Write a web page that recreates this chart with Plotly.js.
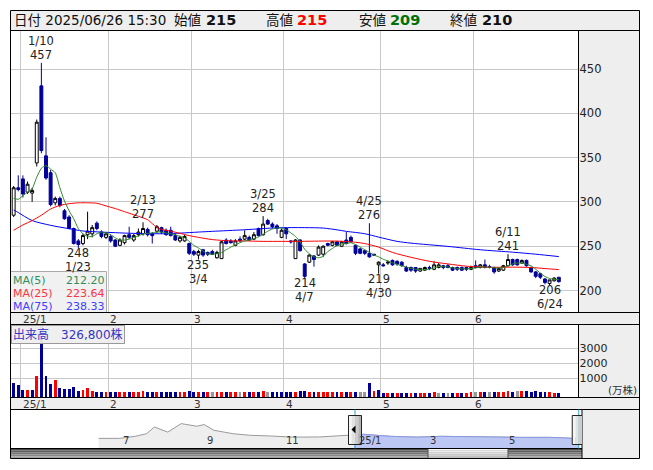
<!DOCTYPE html>
<html><head><meta charset="utf-8">
<script src="https://cdn.plot.ly/plotly-3.0.1.min.js"></script>
<style>html,body{margin:0;padding:0;background:#fff}#chart{width:653px;height:470px}</style>
</head><body><div id="chart"></div>
<script>
// ---------------- data ----------------
const dates = ['12/27','12/30','1/6','1/7','1/8','1/9','1/10','1/14','1/15','1/16','1/17','1/20','1/21','1/22','1/23','1/24','1/27','1/28','1/29','1/30','1/31',
'2/3','2/4','2/5','2/6','2/7','2/10','2/12','2/13','2/14','2/17','2/18','2/19','2/20','2/21','2/25','2/26','2/27','2/28',
'3/3','3/4','3/5','3/6','3/7','3/10','3/11','3/12','3/13','3/14','3/17','3/18','3/19','3/21','3/24','3/25','3/26','3/27','3/28','3/31',
'4/1','4/2','4/3','4/4','4/7','4/8','4/9','4/10','4/11','4/14','4/15','4/16','4/17','4/18','4/21','4/22','4/23','4/24','4/25','4/28','4/30',
'5/1','5/2','5/7','5/8','5/9','5/12','5/13','5/14','5/15','5/16','5/19','5/20','5/21','5/22','5/23','5/26','5/27','5/28','5/29','5/30',
'6/2','6/3','6/4','6/5','6/6','6/9','6/10','6/11','6/12','6/13','6/16','6/17','6/18','6/19','6/20','6/23','6/24','6/25','6/26'];

const openP = [285,316,326,311,310,344,431,352,333,299, 304,290,283,270,256,253,263,264,276,266,
260,261,257,251,254,263,257,263,264,269, 264,267,271,268,268,262,256,256,253,244,
240,246,243,244,237,236,257,256,251,258, 258,260,258,270,263,279,275,273,260,270,
256,236,257,230,232,239,240,241,253,251, 255,250,257,260,251,247,245,242,241,229,
229,231,234,233,232,226,226,226,222,223, 226,224,226,228,228,226,226,226,226,224,
228,226,229,227,226,222,223,228,235,235, 231,234,226,221,219,213,208,211,215];
const highP = [318,330,330,323,316,393,457,373,336,306, 306,292,285,271,258,264,289,274,278,268,
266,263,258,259,263,272,264,270,277,271, 266,274,272,270,272,264,262,263,254,246,
246,247,244,246,245,256,259,258,258,261, 268,262,266,271,284,281,277,275,270,271,
257,258,258,231,241,240,251,251,254,256, 256,256,266,262,252,248,246,276,241,233,
231,234,235,234,233,228,227,226,225,227, 228,233,231,229,230,227,227,227,227,228,
234,230,235,229,227,226,229,241,236,236, 235,235,227,222,220,214,212,215,215];
const lowP = [283,312,305,309,300,340,355,325,295,296, 294,280,269,252,248,251,258,260,268,259,
258,254,249,250,252,258,255,261,262,261, 253,265,264,262,261,256,254,255,240,239,
235,238,239,240,236,236,252,253,250,255, 257,256,257,261,262,274,270,264,259,258,
253,236,244,214,231,227,239,238,250,250, 250,249,252,254,240,241,240,237,239,219,
227,229,228,228,227,221,221,220,221,222, 223,223,225,224,225,222,222,222,222,223,
225,225,225,225,219,221,222,227,228,228, 230,227,220,214,213,207,206,210,209];
const closeP = [316,314,309,320,313,390,358,327,297,304, 296,281,270,253,252,262,267,271,270,261,
264,256,250,257,262,260,262,266,270,263, 262,272,266,263,262,257,260,261,242,241,
244,240,241,241,243,255,253,254,256,256, 262,257,263,262,275,275,272,270,268,264,
255,257,245,216,240,235,249,250,251,255, 251,255,253,255,242,242,242,238,240,232,
228,232,229,230,228,222,223,222,225,226, 225,229,229,226,226,223,224,223,224,226,
226,229,226,226,221,225,228,235,229,229, 234,228,221,216,215,209,212,214,210];
// volume in 万株
const volumeMan = [700,550,220,220,220,1150,4500,1150,620,890, 330,290,290,400,150,220,330,150,70,70,
70,70,70,60,90,90,80,90,150,90, 90,80,90,70,90,60,80,70,150,60,
90,60,70,70,90,80,60,80,60,90, 80,60,60,100,150,90,60,90,60,110,
60,60,150,150,90,90,90,90,60,60, 90,60,90,60,90,60,60,700,130,220,
50,50,50,50,50,50,40,50,50,50, 50,60,50,50,50,40,50,50,50,60,
110,60,110,110,110,110,110,170,110,150, 170,170,110,170,90,90,90,45,32.68];

const ma5X = [0,1,2,3,4,5,6,7,8,9,10,11,12,13,14,15,16,17,18,19,20,21,22,23,24,25,26,27,28,29,30,31,32,33,34,35,36,37,38,39,40,41,42,43,44,45,46,47,48,49,50,51,52,53,54,55,56,57,58,59,60,61,62,63,64,65,66,67,68,69,70,71,72,73,74,75,76,77,78,79,80,81,82,83,84,85,86,87,88,89,90,91,92,93,94,95,96,97,98,99,100,101,102,103,104,105,106,107,108,109,110,111,112,113,114,115,116,117,118];
const ma5 = [304,303,307,311,315,328,338,341,337,333,316,301,290,281,270,264,261,261,264,266,265,263,259.5,257,257,258,260,261.5,264,264.5,265,266,266,265,264,263,261,259.5,255.5,251,248,244.5,241.5,241,241.5,243,246,249,251.5,254,256,257,258.5,260.5,263.5,267,269.5,270.5,270.5,268.5,265,261,255,246.5,241.5,238,237,238.5,244,247.5,250.8,252.5,253,254,251.8,249,246,243,240,238,235.3,233.3,231.3,229.6,228,226.6,225,224,223.6,223.4,224.2,225.6,226.9,227,226.5,225.6,225,224.5,224.5,225,225.5,226.5,226.6,226.4,225.6,225.4,226,228,230,231,231,229.6,227.8,224,219.6,215.8,213.6,212.8,212.2];
const ma25X = [0,2,4,6,8,10,12,14,16,18,20,22,24,26,28,29,30,31,32,34,36,38,40,43,47,50,54,58,62,66,70,74,76,79,82,86,90,94,98,101,104,108,112,115,118];
const ma25 = [268,274,279,285,292,296,298,299,299,298.5,295.5,292.5,289,285.5,282,280,275.5,271.5,269,267,264.5,262,260,257.5,256,256,255.5,255.5,255.5,255.8,255.8,254.5,253,249,243,237.5,233,230,227.5,226.6,226.2,226.4,226,224.8,223.64];
const ma75X = [0,1,4,8,12,15,19,22,26,33,36,40,43,50,57,63,67,70,72,76,79,83,86,94,101,108,113,118];
const ma75 = [291,288,279,273.6,269.8,267.2,266,265.3,264.5,264.1,264.8,266,266.8,268.6,270.8,271,270.5,268.5,266.8,264.1,260.3,255.5,253.5,249.8,246,243.3,241,238.33];
const maNames = ['MA(5)','MA(25)','MA(75)'];
const maLast = ['212.20','223.64','238.33'];

const markDates = ['1/10','1/23','2/13','3/4','3/25','4/7','4/25','4/30','6/11','6/24'];
const markKinds = ['high','low','high','low','high','low','high','low','high','low'];

const headerDate = '2025/06/26 15:30';
const priceTicks = [200,250,300,350,400,450];
const volTicks = [1000,2000,3000];

// navigator (long-term line)
const navN = [-132,-121,-113,-107,-103,-96,-89,-84,-81,-77,-72,-62,-53,-43,-31,-17,-2,1,6,20,34,46,56,72,87,103,115,118];
const navV = [250,250,260,273,306,281,323,315,310,318,290,273,265,262,256,257,265,266,270,260,256,260,260,257,255,255,250,250];
const navTickN = [-121,-77,-36,2,39,80];
const navTickText = ['7','9','11','25/1','3','5'];

// ---------------- drawing ----------------
const W = 653, H = 470;
const px = v => v / W, py = v => 1 - v / H;
const FONT = 'DejaVu Sans, Noto Sans CJK JP, sans-serif';
const UP = '#ff0000', DOWN = '#000099', FLAT = '#999999';
const pos = dates.map((d, i) => i);
const XMIN = -0.684, XMAX = 122.26;
const VOL_MIN = -280, VOL_MAX = 4587;

// month boundaries
const bounds = [], boundLabels = [];
dates.forEach((d, i) => {
  if (i > 0 && d.split('/')[0] !== dates[i - 1].split('/')[0]) {
    bounds.push(i - 0.5);
    const m = d.split('/')[0];
    boundLabels.push(m === '1' ? '25/1' : m);
  }
});

const volColors = closeP.map((c, i) => i === 0 ? DOWN : (c > closeP[i - 1] ? UP : (c < closeP[i - 1] ? DOWN : FLAT)));

const traces = [
  {type: 'candlestick', x: pos, open: openP, high: highP, low: lowP, close: closeP, xaxis: 'x', yaxis: 'y',
   increasing: {line: {color: '#000000', width: 1}, fillcolor: '#ffffff'},
   decreasing: {line: {color: DOWN, width: 1}, fillcolor: DOWN},
   whiskerwidth: 0, hoverinfo: 'skip'},
  {type: 'scatter', mode: 'lines', x: ma75X, y: ma75, xaxis: 'x', yaxis: 'y', line: {color: '#0000ff', width: 1, shape: 'spline', smoothing: 0.8}, hoverinfo: 'skip'},
  {type: 'scatter', mode: 'lines', x: ma25X, y: ma25, xaxis: 'x', yaxis: 'y', line: {color: '#ff0000', width: 1, shape: 'spline', smoothing: 0.8}, hoverinfo: 'skip'},
  {type: 'scatter', mode: 'lines', x: ma5X, y: ma5, xaxis: 'x', yaxis: 'y', line: {color: '#2a8a2a', width: 1, shape: 'spline', smoothing: 0.6}, hoverinfo: 'skip'},
  {type: 'bar', x: pos, y: volumeMan.map(v => v - VOL_MIN), base: VOL_MIN, width: 0.62, xaxis: 'x2', yaxis: 'y2',
   marker: {color: volColors, line: {width: 0}}, hoverinfo: 'skip'},
  {type: 'scatter', mode: 'lines', x: navN, y: navV, xaxis: 'x3', yaxis: 'y3', fill: 'tozeroy', fillcolor: '#eeeeee', line: {color: '#9a9a9a', width: 1}, hoverinfo: 'skip'},
  {type: 'scatter', mode: 'lines', x: navN.filter(n => n >= 1), y: navV.filter((v, i) => navN[i] >= 1), xaxis: 'x3', yaxis: 'y3', fill: 'tozeroy', fillcolor: '#bcc7f4', line: {color: '#8a98e2', width: 1}, hoverinfo: 'skip'}
];

const shapes = [];
function rect(x0, y0, x1, y1, fill, line, layer, extra) {
  shapes.push(Object.assign({type: 'rect', xref: 'paper', yref: 'paper', x0: px(x0), x1: px(x1), y0: py(y0), y1: py(y1),
    fillcolor: fill, line: {color: line || 'rgba(0,0,0,0)', width: line ? 1 : 0}, layer: layer || 'below'}, extra || {}));
}
function hline(x0, x1, y, color) { shapes.push({type: 'line', xref: 'paper', yref: 'paper', x0: px(x0), x1: px(x1), y0: py(y), y1: py(y), line: {color: color || '#000', width: 1}, layer: 'above'}); }
function vline(x, y0, y1, color) { shapes.push({type: 'line', xref: 'paper', yref: 'paper', x0: px(x), x1: px(x), y0: py(y0), y1: py(y1), line: {color: color || '#000', width: 1}, layer: 'above'}); }

// backgrounds
rect(10.5, 10.5, 639.5, 30.5, '#eeeeee');
rect(578.5, 30.5, 639.5, 312.5, '#eeeeee');
rect(10.5, 312.5, 639.5, 324.5, '#eeeeee');
rect(578.5, 324.5, 639.5, 397.5, '#eeeeee');
rect(10.5, 397.5, 639.5, 409.5, '#eeeeee');
rect(582, 409.5, 639.5, 458.5, '#eeeeee');
// scrollbar gradient bands
const bandC = ['#4a4a4a','#5e5e5e','#747474','#8a8a8a','#a2a2a2'];
bandC.forEach((c, k) => rect(10.5, 448.5 + k * 2, 582, 450.5 + k * 2, c, null, 'above'));
const thumbC = ['#fafafa','#eeeeee','#e0e0e0','#d0d0d0','#c0c0c0'];
thumbC.forEach((c, k) => rect(428, 448.5 + k * 2, 508, 450.5 + k * 2, c, null, 'above'));
rect(428, 448.5, 508, 458.5, 'rgba(0,0,0,0)', '#555555', 'above');

// legend box
rect(10.5, 271.5, 106.5, 312.5, 'rgba(240,240,240,0.93)', '#aaaaaa', 'above');

// frame lines
hline(10.5, 639.5, 10.5); hline(10.5, 639.5, 30.5); hline(10.5, 639.5, 312.5); hline(10.5, 639.5, 324.5);
hline(10.5, 639.5, 397.5); hline(10.5, 639.5, 409.5); hline(10.5, 582, 448.5); hline(10.5, 639.5, 458.5);
vline(10.5, 10.5, 458.5); vline(639.5, 10.5, 458.5);
vline(578.5, 30.5, 312.5); vline(578.5, 324.5, 397.5); vline(582, 409.5, 458.5);

// navigator handles
const selStart = bounds[0], selEnd = pos[pos.length - 1];
[selStart, selEnd].forEach(n => {
  shapes.push({type: 'line', xref: 'x3', yref: 'paper', x0: n, x1: n, y0: py(448.5), y1: py(409.5), line: {color: '#2aa6d8', width: 1}, layer: 'above'});
  const bands = ['#f4f4f4','#e2e2e2','#cccccc','#b4b4b4'];
  bands.forEach((c, k) => shapes.push({type: 'rect', xref: 'x3', yref: 'paper', xsizemode: 'pixel', xanchor: n,
    x0: -6.5 + k * 3.25, x1: -6.5 + (k + 1) * 3.25, y0: py(444.5), y1: py(415.5), fillcolor: c, line: {width: 0}, layer: 'above'}));
  shapes.push({type: 'rect', xref: 'x3', yref: 'paper', xsizemode: 'pixel', xanchor: n, x0: -6.5, x1: 6.5,
    y0: py(444.5), y1: py(415.5), fillcolor: 'rgba(0,0,0,0)', line: {color: '#222', width: 1}, layer: 'above'});
});
shapes.push({type: 'path', xref: 'x3', yref: 'paper', xsizemode: 'pixel', xanchor: selStart,
  path: `M -3.5 ${py(429.5)} L 0.5 ${py(425.5)} L 0.5 ${py(433.5)} Z`, fillcolor: '#000', line: {width: 0}, layer: 'above'});

// ---------------- annotations ----------------
const ann = [];
function T(x, y, text, opt) {
  const o = Object.assign({xref: 'paper', yref: 'paper', x: px(x), y: py(y), text: text, showarrow: false,
    xanchor: 'left', yanchor: 'middle', font: {family: FONT, size: 12, color: '#222'}}, opt || {});
  ann.push(o);
}
const last = closeP.length - 1;
const hdr = {family: FONT, size: 13.5, color: '#111'};
T(12, 20.5, '日付 ' + headerDate, {font: hdr});
T(172, 20.5, '始値', {font: hdr});
T(204, 20.5, '<b>' + openP[last] + '</b>', {font: {family: FONT, size: 14.5, color: '#111'}});
T(264, 20.5, '高値', {font: hdr});
T(295, 20.5, '<b>' + highP[last] + '</b>', {font: {family: FONT, size: 14.5, color: '#ff0000'}});
T(357, 20.5, '安値', {font: hdr});
T(388, 20.5, '<b>' + lowP[last] + '</b>', {font: {family: FONT, size: 14.5, color: '#007000'}});
T(448, 20.5, '終値', {font: hdr});
T(480, 20.5, '<b>' + closeP[last] + '</b>', {font: {family: FONT, size: 14.5, color: '#111'}});

// high / low marks
markDates.forEach((d, k) => {
  const p = dates.indexOf(d);
  const base = {xref: 'x', yref: 'y', x: p, showarrow: false, xanchor: 'center', borderpad: 0, font: {family: FONT, size: 11.5, color: '#222'}};
  if (markKinds[k] === 'high') {
    ann.push(Object.assign({}, base, {y: highP[p], text: String(highP[p]), yanchor: 'bottom', yshift: 0}));
    ann.push(Object.assign({}, base, {y: highP[p], text: d, yanchor: 'bottom', yshift: 14}));
  } else {
    ann.push(Object.assign({}, base, {y: lowP[p], text: String(lowP[p]), yanchor: 'top', yshift: 3}));
    ann.push(Object.assign({}, base, {y: lowP[p], text: d, yanchor: 'top', yshift: -11}));
  }
});

// month labels in both date strips
bounds.forEach((b, k) => {
  [318.5, 403.5].forEach(yy => ann.push({xref: 'x', yref: 'paper', x: b, y: py(yy), text: boundLabels[k], showarrow: false,
    xanchor: 'left', yanchor: 'middle', xshift: 0, font: {family: FONT, size: 10.5, color: '#333'}}));
});

// MA legend
const maColors = ['#2f8f5a', '#ff3344', '#4040ff'];
maNames.forEach((n, k) => {
  const yy = 280.5 + k * 13;
  T(11.5, yy, n, {borderpad: 0, font: {family: FONT, size: 11, color: maColors[k]}});
  T(105.5, yy, maLast[k], {xanchor: 'right', borderpad: 0, font: {family: FONT, size: 11, color: maColors[k]}});
});

// volume label
const lastShares = Math.round(volumeMan[last] * 10000).toLocaleString('en-US');
T(10.5, 325, '出来高\u3000' + lastShares + '株', {yanchor: 'top', bgcolor: 'rgba(238,238,238,0.95)', bordercolor: '#999999', borderwidth: 1, borderpad: 1,
  font: {family: FONT, size: 12, color: '#3535c0'}});
T(622, 390, '(万株)', {xanchor: 'center', font: {family: FONT, size: 10.5, color: '#333'}});

// navigator labels
navTickN.forEach((n, k) => ann.push({xref: 'x3', yref: 'paper', x: n, y: py(440), text: navTickText[k], showarrow: false,
  xanchor: 'left', yanchor: 'middle', xshift: 1, font: {family: FONT, size: 10, color: '#333'}}));

const gridCol = '#c8c8c8';
const xBase = {domain: [px(10.5), px(578.5)], range: [XMIN, XMAX], tickmode: 'array', tickvals: bounds, showticklabels: false,
  ticks: '', showgrid: true, gridcolor: gridCol, gridwidth: 1, zeroline: false, showline: false, fixedrange: true};
const layout = {
  width: W, height: H, margin: {l: 0, r: 0, t: 0, b: 0}, paper_bgcolor: '#ffffff', plot_bgcolor: 'rgba(0,0,0,0)',
  showlegend: false, boxgap: 0.1, bargap: 0, hovermode: false,
  xaxis: Object.assign({}, xBase, {anchor: 'y', rangeslider: {visible: false}}),
  yaxis: {domain: [py(312.5), py(30.5)], range: [175.2, 493.5], anchor: 'x', side: 'right', tickmode: 'array', tickvals: priceTicks,
    ticks: '', showgrid: true, gridcolor: gridCol, zeroline: false, showline: false, fixedrange: true,
    tickfont: {family: FONT, size: 11.5, color: '#222'}},
  xaxis2: Object.assign({}, xBase, {anchor: 'y2'}),
  yaxis2: {domain: [py(397.5), py(324.5)], range: [VOL_MIN, VOL_MAX], anchor: 'x2', side: 'right', tickmode: 'array', tickvals: volTicks,
    ticks: '', showgrid: true, gridcolor: gridCol, zeroline: false, showline: false, fixedrange: true,
    tickfont: {family: FONT, size: 11, color: '#222'}},
  xaxis3: {domain: [px(10.5), px(582)], range: [-177.9, 119.7], anchor: 'y3', visible: false, fixedrange: true},
  yaxis3: {domain: [py(448.5), py(409.5)], range: [200, 392.5], anchor: 'x3', visible: false, fixedrange: true},
  shapes: shapes, annotations: ann
};
Plotly.newPlot('chart', traces, layout, {staticPlot: true, displayModeBar: false});
</script></body></html>
